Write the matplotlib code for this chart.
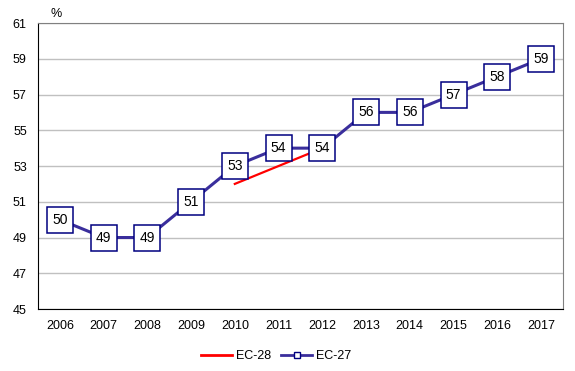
import matplotlib.pyplot as plt
from matplotlib.lines import Line2D

plt.rcParams['font.family'] = ['Liberation Sans', 'DejaVu Sans']

years = ['2006', '2007', '2008', '2009', '2010', '2011',
         '2012', '2013', '2014', '2015', '2016', '2017']
ec27 = [50, 49, 49, 51, 53, 54, 54, 56, 56, 57, 58, 59]
ec28_years = ['2010', '2011', '2012']
ec28 = [52, 53, 54]

line27 = '#3A2E9C'
box_edge = '#000080'
red = '#FF0000'

fig = plt.figure(figsize=(5.75, 3.71), dpi=100)
ax = fig.add_axes([0.066, 0.167, 0.913, 0.771])

x = list(range(len(years)))
x28 = [years.index(y) for y in ec28_years]

ax.plot(x, ec27, color=line27, lw=2.2, zorder=2)
ax.plot(x28, ec28, color=red, lw=1.6, zorder=2)
ax.plot(x, ec27, ls='none', marker='s', ms=19, mfc='white', mec=box_edge, mew=1.1, zorder=3)
for xi, v in zip(x, ec27):
    ax.text(xi, v, str(v), ha='center', va='center', fontsize=10, zorder=4)

ax.set_xlim(-0.5, len(years) - 0.5)
ax.set_ylim(45, 61)
ax.set_yticks(range(45, 62, 2))
ax.set_xticks(x)
ax.set_xticklabels(years)
ax.tick_params(length=0, labelsize=9, pad=8)
ax.tick_params(axis='y', pad=8)
ax.grid(axis='y', color='#C0C0C0', lw=1)
ax.set_axisbelow(True)

ax.spines['left'].set_color('black')
ax.spines['bottom'].set_color('black')
ax.spines['top'].set_color('#808080')
ax.spines['right'].set_color('#808080')

fig.text(0.088, 0.962, '%', fontsize=9, ha='left', va='center')

handles = [Line2D([], [], color=red, lw=2),
           Line2D([], [], color=line27, lw=2, marker='s', ms=4, mfc='white', mec=box_edge)]
fig.legend(handles, ['EC-28', 'EC-27'], loc='center', bbox_to_anchor=(0.48, 0.04),
           ncol=2, frameon=False, fontsize=9, handlelength=2.5,
           handletextpad=0.3, columnspacing=0.8)

fig.savefig('out.png', dpi=100)
